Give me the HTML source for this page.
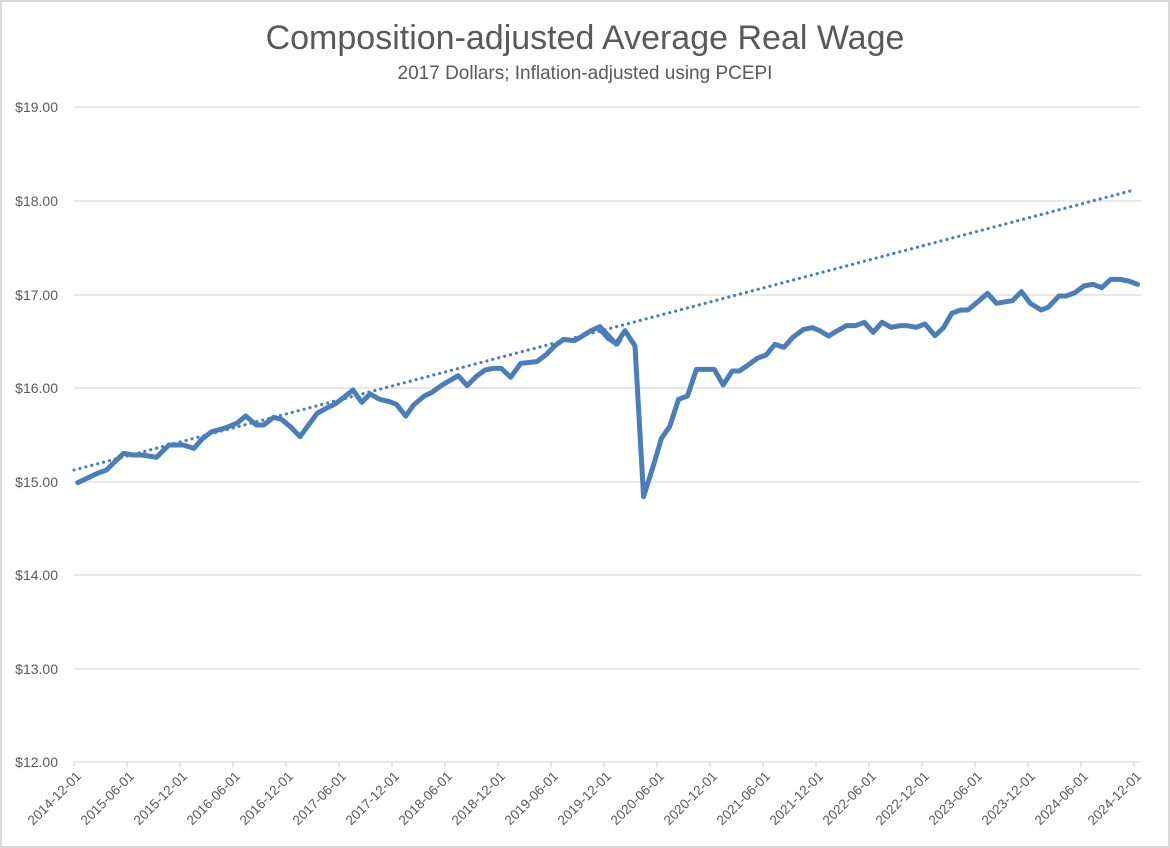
<!DOCTYPE html>
<html><head><meta charset="utf-8"><style>
html,body{margin:0;padding:0;background:#fff}
svg{display:block;font-family:"Liberation Sans",Calibri,sans-serif}
</style></head><body>
<svg width="1170" height="848" viewBox="0 0 1170 848" xmlns="http://www.w3.org/2000/svg">
<rect x="1" y="1" width="1168" height="846" fill="#fff" stroke="#d9d9d9" stroke-width="2"/>
<text x="585" y="49" text-anchor="middle" font-size="34" fill="#595959">Composition-adjusted Average Real Wage</text>
<text x="585" y="79" text-anchor="middle" font-size="19" fill="#595959">2017 Dollars; Inflation-adjusted using PCEPI</text>
<g stroke="#d9d9d9" stroke-width="1.3">
<line x1="74" x2="1141" y1="107" y2="107"/><line x1="74" x2="1141" y1="201" y2="201"/>
<line x1="74" x2="1141" y1="295" y2="295"/><line x1="74" x2="1141" y1="388" y2="388"/>
<line x1="74" x2="1141" y1="482" y2="482"/><line x1="74" x2="1141" y1="575" y2="575"/>
<line x1="74" x2="1141" y1="669" y2="669"/><line x1="74" x2="1141" y1="762" y2="762"/>
</g>
<g font-size="14" fill="#595959" text-anchor="end">
<text x="58" y="112">$19.00</text><text x="58" y="206">$18.00</text><text x="58" y="300">$17.00</text>
<text x="58" y="393">$16.00</text><text x="58" y="487">$15.00</text><text x="58" y="580">$14.00</text>
<text x="58" y="674">$13.00</text><text x="58" y="767">$12.00</text>
</g>
<g stroke="#d9d9d9" stroke-width="1.3">
<line x1="74" x2="74" y1="762" y2="767"/><line x1="127" x2="127" y1="762" y2="767"/><line x1="180" x2="180" y1="762" y2="767"/><line x1="233" x2="233" y1="762" y2="767"/><line x1="286" x2="286" y1="762" y2="767"/><line x1="339" x2="339" y1="762" y2="767"/><line x1="392" x2="392" y1="762" y2="767"/><line x1="445" x2="445" y1="762" y2="767"/><line x1="498" x2="498" y1="762" y2="767"/><line x1="551" x2="551" y1="762" y2="767"/><line x1="604" x2="604" y1="762" y2="767"/><line x1="657" x2="657" y1="762" y2="767"/><line x1="710" x2="710" y1="762" y2="767"/><line x1="763" x2="763" y1="762" y2="767"/><line x1="816" x2="816" y1="762" y2="767"/><line x1="869" x2="869" y1="762" y2="767"/><line x1="922" x2="922" y1="762" y2="767"/><line x1="975" x2="975" y1="762" y2="767"/><line x1="1028" x2="1028" y1="762" y2="767"/><line x1="1081" x2="1081" y1="762" y2="767"/><line x1="1134" x2="1134" y1="762" y2="767"/>
</g>
<g font-size="13.5" fill="#595959" text-anchor="end">
<text transform="translate(82,777) rotate(-45)">2014-12-01</text>
<text transform="translate(135,777) rotate(-45)">2015-06-01</text>
<text transform="translate(188,777) rotate(-45)">2015-12-01</text>
<text transform="translate(241,777) rotate(-45)">2016-06-01</text>
<text transform="translate(294,777) rotate(-45)">2016-12-01</text>
<text transform="translate(347,777) rotate(-45)">2017-06-01</text>
<text transform="translate(400,777) rotate(-45)">2017-12-01</text>
<text transform="translate(453,777) rotate(-45)">2018-06-01</text>
<text transform="translate(506,777) rotate(-45)">2018-12-01</text>
<text transform="translate(559,777) rotate(-45)">2019-06-01</text>
<text transform="translate(612,777) rotate(-45)">2019-12-01</text>
<text transform="translate(665,777) rotate(-45)">2020-06-01</text>
<text transform="translate(718,777) rotate(-45)">2020-12-01</text>
<text transform="translate(771,777) rotate(-45)">2021-06-01</text>
<text transform="translate(824,777) rotate(-45)">2021-12-01</text>
<text transform="translate(877,777) rotate(-45)">2022-06-01</text>
<text transform="translate(930,777) rotate(-45)">2022-12-01</text>
<text transform="translate(983,777) rotate(-45)">2023-06-01</text>
<text transform="translate(1036,777) rotate(-45)">2023-12-01</text>
<text transform="translate(1089,777) rotate(-45)">2024-06-01</text>
<text transform="translate(1142,777) rotate(-45)">2024-12-01</text>
</g>
<line x1="74" y1="470" x2="1134" y2="190" stroke="#4a7ebb" stroke-width="3.2" stroke-dasharray="0.1 6" stroke-linecap="round"/>
<g fill="none" stroke="#4a7ebb" stroke-width="5" stroke-linejoin="round" stroke-linecap="round">
<polyline vector-effect="non-scaling-stroke" transform="translate(60,260) scale(0.35714,0.33333)" points="50,668 75,655 105,640 130,630 178,580 205,585 230,585 270,592 305,555 345,555 375,565 400,535 425,515 460,505 495,490 520,468 550,495 570,495 598,472 620,478 645,500 672,530 720,460 745,445 770,432 795,412 820,390 845,427 868,402 895,418 920,424 942,433 968,468 990,435 1020,408 1040,398 1070,375 1115,347 1140,377 1165,350 1190,330 1215,325 1235,325 1262,352 1290,310 1335,305 1360,285 1385,258 1410,238 1440,242 1460,230 1485,213 1507,202 1535,235 1560,252 1568,238"/>
<polyline vector-effect="non-scaling-stroke" transform="translate(600,260) scale(0.35714,0.33333)" points="0,200 45,252 70,212 98,258 122,710 150,615 172,535 195,500 220,418 245,408 270,328 320,328 345,375 370,333 390,333 415,315 440,295 465,285 490,253 515,262 540,232 570,208 595,203 615,212 640,228 665,212 690,197 715,197 740,187 765,217 790,187 815,202 840,197 860,197 885,202 910,192 938,227 962,203 985,160 1010,150 1030,150 1055,128 1085,100 1110,130 1155,122 1180,95 1205,130 1235,150 1255,142 1285,108 1305,108 1330,98 1355,78 1380,73 1405,83 1430,58 1455,58 1480,63 1505,73"/>
</g>
</svg>
</body></html>
